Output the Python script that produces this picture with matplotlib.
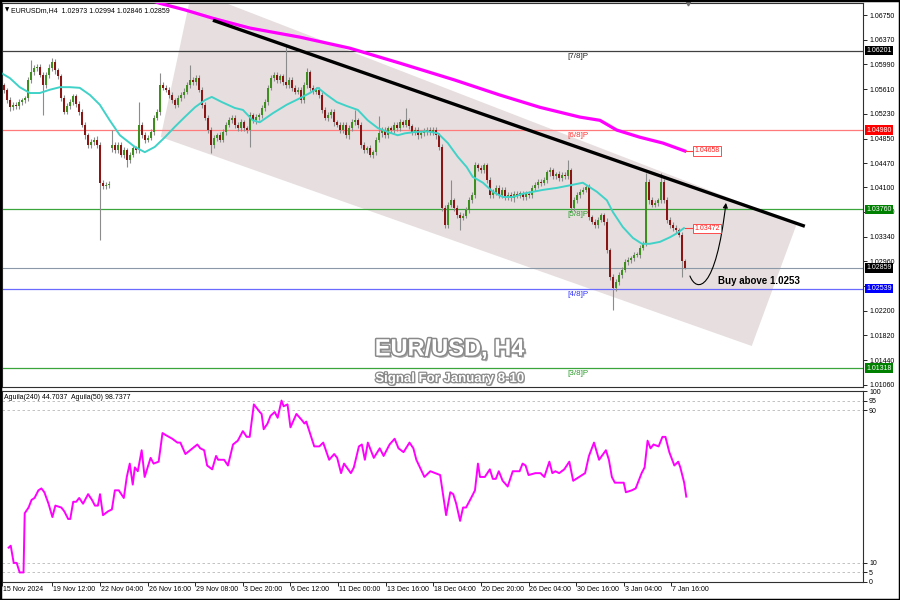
import numpy as np
import matplotlib.pyplot as plt
import matplotlib.patheffects as pe
from matplotlib.patches import Polygon, FancyArrowPatch, Rectangle
from matplotlib.path import Path

plt.rcParams['font.family'] = ['Liberation Sans', 'DejaVu Sans']

# EURUSD H4 closes, one per bar (bar 0 = 15 Nov 2024)
closes = [
    1.0567, 1.0560, 1.0544, 1.0533, 1.0537, 1.0535, 1.0541, 1.0544, 1.0547, 1.0575,
    1.0587, 1.0593, 1.0595, 1.0583, 1.0567, 1.0583, 1.0593, 1.0603, 1.0590, 1.0581,
    1.0547, 1.0526, 1.0535, 1.0541, 1.0550, 1.0538, 1.0526, 1.0506, 1.0490, 1.0475,
    1.0480, 1.0483, 1.0475, 1.0417, 1.0412, 1.0413, 1.0415, 1.0475, 1.0467, 1.0475,
    1.0460, 1.0467, 1.0452, 1.0460, 1.0470, 1.0467, 1.0506, 1.0490, 1.0483, 1.0486,
    1.0495, 1.0517, 1.0526, 1.0567, 1.0563, 1.0560, 1.0552, 1.0544, 1.0537, 1.0547,
    1.0552, 1.0557, 1.0567, 1.0575, 1.0572, 1.0578, 1.0560, 1.0537, 1.0517, 1.0498,
    1.0475, 1.0486, 1.0490, 1.0483, 1.0495, 1.0506, 1.0513, 1.0517, 1.0506, 1.0501,
    1.0510, 1.0501, 1.0498, 1.0521, 1.0513, 1.0518, 1.0521, 1.0532, 1.0541, 1.0563,
    1.0578, 1.0583, 1.0575, 1.0581, 1.0572, 1.0567, 1.0575, 1.0563, 1.0557, 1.0560,
    1.0544, 1.0567, 1.0587, 1.0563, 1.0557, 1.0560, 1.0552, 1.0529, 1.0517, 1.0521,
    1.0526, 1.0510, 1.0506, 1.0498, 1.0506, 1.0490, 1.0501, 1.0510, 1.0513, 1.0506,
    1.0475, 1.0467, 1.0470, 1.0460, 1.0464, 1.0483, 1.0493, 1.0498, 1.0490, 1.0501,
    1.0498, 1.0506, 1.0501, 1.0510, 1.0506, 1.0513, 1.0504, 1.0495, 1.0498, 1.0490,
    1.0493, 1.0496, 1.0498, 1.0495, 1.0498, 1.0490, 1.0472, 1.0378, 1.0352, 1.0383,
    1.0390, 1.0378, 1.0367, 1.0363, 1.0366, 1.0375, 1.0390, 1.0398, 1.0444, 1.0440,
    1.0436, 1.0444, 1.0421, 1.0398, 1.0403, 1.0409, 1.0398, 1.0406, 1.0395, 1.0398,
    1.0393, 1.0400, 1.0397, 1.0401, 1.0395, 1.0400, 1.0398, 1.0409, 1.0413, 1.0418,
    1.0417, 1.0421, 1.0433, 1.0436, 1.0427, 1.0430, 1.0424, 1.0429, 1.0427, 1.0436,
    1.0378, 1.0390, 1.0398, 1.0403, 1.0406, 1.0410, 1.0364, 1.0357, 1.0352, 1.0360,
    1.0367, 1.0357, 1.0313, 1.0272, 1.0255, 1.0264, 1.0275, 1.0283, 1.0295, 1.0298,
    1.0301, 1.0306, 1.0306, 1.0317, 1.0324, 1.0418, 1.0390, 1.0383, 1.0386, 1.0390,
    1.0418, 1.0390, 1.0360, 1.0352, 1.0347, 1.0344, 1.0337, 1.02973, 1.02859,
]
first_open = 1.0575
gap_opens = {37: 1.0470}

# wick lengths in pips above / below the body
hi_wick = [
    15, 4, 3, 5, 4, 4, 5, 4, 4, 5,
    19, 5, 4, 4, 4, 5, 6, 6, 4, 4,
    4, 5, 4, 5, 4, 4, 5, 4, 5, 4,
    5, 4, 6, 4, 4, 5, 4, 23, 4, 5,
    4, 5, 4, 5, 4, 4, 35, 4, 5, 4,
    5, 4, 4, 19, 5, 4, 5, 4, 4, 5,
    4, 5, 5, 23, 5, 5, 4, 4, 4, 4,
    4, 5, 4, 5, 4, 4, 5, 4, 4, 5,
    5, 4, 4, 5, 4, 5, 4, 4, 5, 4,
    5, 4, 5, 4, 4, 57, 5, 4, 4, 5,
    4, 5, 6, 4, 4, 5, 4, 4, 4, 5,
    4, 5, 4, 4, 5, 4, 5, 5, 16, 4,
    4, 5, 4, 5, 4, 4, 26, 4, 5, 4,
    4, 5, 4, 5, 4, 19, 4, 4, 5, 4,
    4, 5, 4, 4, 5, 4, 4, 4, 5, 5,
    31, 4, 4, 5, 4, 4, 5, 4, 5, 4,
    5, 4, 4, 5, 4, 4, 5, 4, 4, 5,
    4, 4, 5, 4, 4, 5, 4, 4, 5, 4,
    4, 5, 4, 5, 4, 4, 5, 4, 4, 16,
    4, 5, 4, 4, 5, 4, 5, 4, 4, 5,
    4, 4, 5, 4, 4, 5, 4, 4, 5, 4,
    4, 4, 5, 4, 4, 14, 4, 5, 4, 4,
    14, 4, 5, 4, 4, 5, 4, 4, 2,
]
lo_wick = [
    4, 5, 4, 6, 4, 5, 4, 4, 5, 5,
    4, 5, 4, 4, 46, 4, 5, 4, 5, 4,
    5, 4, 4, 5, 4, 4, 5, 4, 5, 5,
    4, 5, 5, 88, 4, 5, 4, 5, 4, 5,
    4, 5, 11, 5, 4, 4, 5, 4, 5, 4,
    4, 5, 4, 5, 4, 4, 5, 4, 5, 4,
    4, 5, 4, 4, 5, 4, 4, 5, 4, 4,
    12, 4, 5, 4, 4, 5, 4, 4, 5, 4,
    4, 5, 4, 26, 4, 5, 4, 4, 5, 4,
    4, 5, 4, 4, 5, 4, 4, 5, 4, 4,
    5, 4, 4, 5, 4, 4, 5, 4, 4, 5,
    4, 5, 4, 4, 5, 4, 5, 4, 4, 5,
    4, 4, 5, 4, 5, 4, 4, 5, 4, 4,
    5, 4, 4, 5, 4, 4, 5, 4, 4, 5,
    4, 4, 5, 4, 4, 5, 4, 4, 5, 4,
    4, 5, 4, 18, 4, 4, 5, 4, 4, 5,
    4, 4, 5, 4, 4, 5, 4, 4, 5, 4,
    4, 5, 4, 4, 5, 4, 4, 5, 4, 4,
    5, 4, 4, 5, 4, 4, 5, 4, 4, 4,
    5, 4, 4, 5, 4, 4, 5, 4, 4, 5,
    4, 5, 4, 5, 34, 4, 4, 5, 4, 4,
    5, 4, 4, 5, 4, 4, 5, 4, 4, 5,
    4, 4, 5, 4, 4, 5, 4, 25, 1,
]

# fast MA (cyan), read at bar positions
ma_fast_x = [-0.3, 3, 6.3, 9.7, 13, 16.3, 19.7, 23, 26.3, 29.7,
             33, 36.3, 39.7, 44.7, 48, 51.3, 54.7, 58, 61.3, 64.7,
             68, 70.3, 73.7, 78, 80.7, 84, 86.3, 90.7, 95.3, 99.7,
             103, 105.7, 108.7, 112, 115.3, 119, 122.3, 125.7, 129, 132.3,
             134.7, 138, 142.3, 145.7, 149, 152.3, 155.3, 157.3, 160.7, 164,
             167.3, 170.7, 174, 177.3, 180.7, 185.3, 189.7, 194, 198.7, 202,
             204, 207.3, 210.7, 213.7, 216.3, 219.7, 223, 225.3, 227.7]
ma_fast_y = [1.0587, 1.0578, 1.0564, 1.0555, 1.0555, 1.0560, 1.0564, 1.0564, 1.0563, 1.0552,
             1.0537, 1.0513, 1.0490, 1.0472, 1.0464, 1.0472, 1.0487, 1.0503, 1.0518, 1.0533,
             1.0544, 1.0549, 1.0541, 1.0532, 1.0529, 1.0513, 1.0510, 1.0524, 1.0537, 1.0547,
             1.0555, 1.0563, 1.0552, 1.0541, 1.0535, 1.0529, 1.0513, 1.0501, 1.0495, 1.0490,
             1.0493, 1.0495, 1.0496, 1.0493, 1.0478, 1.0457, 1.0441, 1.0426, 1.0417, 1.0403,
             1.0395, 1.0395, 1.0400, 1.0403, 1.0406, 1.0409, 1.0413, 1.0417, 1.0403, 1.0390,
             1.0372, 1.0349, 1.0332, 1.0323, 1.0323, 1.0326, 1.0333, 1.0339, 1.03472]

# slow MA (magenta)
ma_slow_x = [44.7, 53, 61.3, 70.7, 83, 99.7, 116.3, 133, 151.3, 166.3,
             179.7, 193, 199.7, 205.3, 213, 220.7, 228]
ma_slow_y = [1.0706, 1.0693, 1.0683, 1.0670, 1.0655, 1.0641, 1.0624, 1.0601, 1.0575, 1.0552,
             1.0533, 1.0518, 1.0513, 1.0498, 1.0487, 1.0478, 1.04658]

# Murrey levels: value, tag, line colour, box colour
levels = [1.06201, 1.04980, 1.03760, 1.02539, 1.01318]
level_tags = ['[7/8]P', '[6/8]P', '[5/8]P', '[4/8]P', '[3/8]P']
level_colors = ['#404040', '#ff7a7a', '#3aa53a', '#6a6aff', '#3aa53a']
level_text_colors = ['#202020', '#ff3030', '#2a9a2a', '#3030ff', '#2a9a2a']
level_box_colors = ['#000000', '#ff0000', '#008000', '#0000ff', '#008000']
last_price = 1.02859

price_ticks = [1.0675, 1.0637, 1.0599, 1.0561, 1.0523, 1.0485, 1.0447, 1.0410,
               1.0372, 1.0334, 1.0296, 1.0258, 1.0220, 1.0182, 1.0144, 1.0106]
hidden_ticks = [1.0258]  # covered by the 1.02539 tag in the terminal

# Aguila(240) oscillator
ind_x = [0.3, 1, 2, 3, 4, 5.3, 5.7, 7, 8, 9, 10.3, 11.3, 12.3, 13.7, 15, 16, 18, 19, 20.3, 21,
         22, 23, 24, 25.3, 27, 28.3, 29.3, 30.3, 31, 32, 33.7, 35, 36, 37.3, 39, 40, 41, 42,
         42.7, 43.7, 45, 46, 47, 48, 49, 50.7, 52, 53, 55.3, 57, 58, 59.7, 61.3, 63.7, 64.7,
         66, 67, 68.7, 70, 70.7, 72.7, 74, 75.7, 77.3, 79, 80.3, 81.3, 82.7, 84.7, 85.3, 86,
         87.3, 88.3, 89.7, 90.7, 92, 92.7, 94, 95, 97, 98.7, 99.7, 100.3, 103, 104.7, 106,
         108, 109.7, 110.7, 112, 113, 115.3, 116.3, 118, 119, 120, 121, 123, 125, 126.3,
         128.3, 130, 131.3, 133, 135, 136.3, 137.3, 140, 142, 143.7, 145.3, 147.3, 148.7,
         149.7, 150.7, 152, 153, 154, 155.7, 157, 158, 158.7, 160.3, 162, 163, 164, 165,
         166.3, 168, 169.7, 172, 173, 174, 175, 177.3, 179, 180.3, 182, 183, 184, 185.3,
         187, 188.7, 190, 192, 194, 195.3, 197, 198.7, 201, 202, 203, 204, 205.7, 207,
         207.7, 209.7, 211, 213, 214, 215, 216, 217, 218.7, 220, 221, 222.3, 224, 225.3,
         226, 227.3, 228]
ind_v = [18, 19, 10, 10, 5, 5, 36, 39, 43, 44, 48, 49, 47, 41, 34, 40, 39, 37, 33, 33,
         42, 42, 44, 41, 46, 43, 40, 40, 46, 35, 37, 38, 48, 48, 44, 55, 62, 51,
         60, 58, 69, 55, 60, 65, 62, 63, 78, 77, 75, 73, 73, 67, 69, 72, 70,
         69, 61, 59, 66, 64, 64, 61, 72, 74, 79, 76, 76, 93, 89, 88, 80,
         83, 87, 89, 86, 95, 92, 93, 81, 88, 85, 83, 84, 71, 71, 73,
         64, 67, 65, 57, 62, 57, 60, 71, 72, 64, 73, 65, 70, 66,
         72, 75, 70, 68, 73, 70, 64, 55, 58, 57, 56, 35, 47,
         46, 41, 32, 39, 39, 44, 48, 62, 55, 55, 59, 54, 54, 58,
         53, 50, 58, 58, 62, 61, 56, 57, 57, 55, 63, 57, 58, 57,
         59, 63, 53, 55, 57, 66, 73, 64, 69, 64, 55, 52, 52, 52,
         47, 48, 49, 57, 60, 74, 70, 72, 71, 76, 76, 68, 61, 63,
         60, 52, 44.7]
ind_levels = [5, 10, 90, 95]

date_labels = ['15 Nov 2024', '19 Nov 12:00', '22 Nov 04:00', '26 Nov 16:00', '29 Nov 08:00',
               '3 Dec 20:00', '6 Dec 12:00', '11 Dec 00:00', '13 Dec 16:00', '18 Dec 04:00',
               '20 Dec 20:00', '26 Dec 04:00', '30 Dec 16:00', '3 Jan 04:00', '7 Jan 16:00']
date_bars = [-2, 15, 31, 47, 63, 79, 95, 111, 127, 143, 159, 175, 191, 207, 223]

# ---- candles
closes_a = np.array(closes)
opens = np.array([first_open] + closes[:-1])
for k, v in gap_opens.items():
    opens[k] = v
highs = np.maximum(opens, closes_a) + np.array(hi_wick) * 0.0001
lows = np.minimum(opens, closes_a) - np.array(lo_wick) * 0.0001
x = np.arange(len(closes))
up = closes_a >= opens

fig = plt.figure(figsize=(9, 6), dpi=100)
ax = fig.add_axes([0.002, 0.355, 0.9567, 0.64])
ax2 = fig.add_axes([0.002, 0.03, 0.9567, 0.3183])

ax.set_xlim(0.33, 287.33)
ax.set_ylim(1.01027, 1.06935)

# channel shading
chan = Polygon([(63.7, 1.07135), (53.3, 1.04873), (250.3, 1.01658), (265.3, 1.03535)],
               closed=True, fc='#e7dfdf', ec='none', zorder=0.5)
ax.add_patch(chan)

# level lines
for lv, tag, lc, tc, bc in zip(levels, level_tags, level_colors, level_text_colors, level_box_colors):
    ax.axhline(lv, color=lc, lw=0.9, zorder=1)
    ax.text(189, lv - 0.0003, tag, color=tc, fontsize=5.8, va='top', ha='left', zorder=6)
    ax.text(1.004, lv, f'{lv:.5f}', transform=ax.get_yaxis_transform(), color='white',
            fontsize=5, va='center', ha='left', zorder=10, clip_on=False,
            bbox=dict(boxstyle='square,pad=0.18', fc=bc, ec='none'))
ax.axhline(last_price, color='#8a98a8', lw=0.8, zorder=1)
ax.text(1.004, last_price, f'{last_price:.5f}', transform=ax.get_yaxis_transform(), color='white',
        fontsize=5, va='center', ha='left', zorder=10, clip_on=False,
        bbox=dict(boxstyle='square,pad=0.18', fc='black', ec='none'))

# candles
ax.vlines(x, lows, highs, color='#8c8c8c', lw=0.8, zorder=3)
body_h = np.maximum(np.abs(closes_a - opens), 0.00008)
ax.bar(x, body_h, bottom=np.minimum(opens, closes_a), width=0.62,
       color=np.where(up, '#3f8f1f', '#8b1414'), edgecolor='none', zorder=3.5)

# moving averages
ax.plot(ma_fast_x, ma_fast_y, color='#40d2c8', lw=1.4, zorder=4)
ax.plot(ma_slow_x, ma_slow_y, color='#ff00ff', lw=2.3, zorder=4)

# MA price tags
for yv in [ma_slow_y[-1], ma_fast_y[-1]]:
    ax.plot([228, 231], [yv, yv], color='#ff4040', lw=0.8, zorder=4)
    ax.text(231.2, yv, f'{yv:.5f}', color='#ff2020', fontsize=5, va='center', ha='left', zorder=7,
            bbox=dict(boxstyle='square,pad=0.15', fc='white', ec='#ff3030', lw=0.6))

# trend line
ax.plot([70.7, 268], [1.0667, 1.0350], color='black', lw=2.4, zorder=5,
        solid_capstyle='butt')

# projected path arrow
arc = Path([(229.7, 1.02735), (232.0, 1.0247), (238.3, 1.0249), (241.7, 1.0386)],
           [Path.MOVETO, Path.CURVE4, Path.CURVE4, Path.CURVE4])
ax.add_patch(FancyArrowPatch(path=arc, arrowstyle='-|>', mutation_scale=7, lw=0.8,
                             color='black', transform=ax.transData, zorder=6))
ax.text(239, 1.02658, 'Buy above 1.0253', fontsize=7, fontweight='bold', va='center',
        ha='left', zorder=7)

# titles
ax.text(0.5203, 0.099, 'EUR/USD, H4', transform=ax.transAxes, fontsize=17, fontweight='bold',
        color='white', ha='center', va='center', zorder=8,
        path_effects=[pe.SimplePatchShadow(offset=(1.5, -1.5), shadow_rgbFace='#505050', alpha=0.5),
                      pe.Stroke(linewidth=2.2, foreground='#8a8a8a'), pe.Normal()])
ax.text(0.5203, 0.021, 'Signal For January 8-10', transform=ax.transAxes, fontsize=9.5,
        fontweight='bold', color='white', ha='center', va='center', zorder=8,
        path_effects=[pe.SimplePatchShadow(offset=(1, -1), shadow_rgbFace='#505050', alpha=0.5),
                      pe.Stroke(linewidth=1.8, foreground='#8a8a8a'), pe.Normal()])

ax.text(0.004, 0.988, '\u25bc', transform=ax.transAxes, fontsize=4, va='top', ha='left',
        family=['DejaVu Sans'])
ax.text(0.011, 0.99, 'EURUSDm,H4  1.02973 1.02994 1.02846 1.02859', transform=ax.transAxes,
        fontsize=5, va='top', ha='left')
ax.plot([229], [1.06935], marker='v', color='#707070', ms=3.5, clip_on=False, zorder=9)

ax.yaxis.tick_right()
ax.set_yticks(price_ticks)
ax.set_yticklabels(['' if t in hidden_ticks else f'{t:.5f}' for t in price_ticks])
ax.tick_params(axis='y', labelsize=5, length=3, width=0.6, pad=1.5)
ax.set_xticks([])
for s in ax.spines.values():
    s.set_color('#303030')
    s.set_linewidth(0.8)

# ---- oscillator panel
ax2.set_xlim(0.33, 287.33)
ax2.set_ylim(0, 100)
for lv in ind_levels:
    ax2.axhline(lv, color='#b8b8b8', lw=0.6, ls=(0, (3, 3)))
ax2.plot(ind_x, ind_v, color='#ff00ff', lw=1.4)
ax2.text(0.002, 0.985, 'Aguila(240) 44.7037  Aguila(50) 98.7377', transform=ax2.transAxes,
         fontsize=5, va='top', ha='left')
ax2.yaxis.tick_right()
ax2.set_yticks([0, 5, 10, 90, 95, 100])
ax2.set_yticklabels(['0', '5', '10', '90', '95', '100'])
ax2.tick_params(axis='y', labelsize=5, length=3, width=0.6, pad=1.5)
ax2.set_xticks(date_bars)
ax2.set_xticklabels([])
ax2.tick_params(axis='x', length=3, width=0.6)
for b, lab in zip(date_bars, date_labels):
    ax2.text(b + 0.3, -0.038, lab, transform=ax2.get_xaxis_transform(), fontsize=5,
             va='center', ha='left', clip_on=False)
for s in ax2.spines.values():
    s.set_color('#303030')
    s.set_linewidth(0.8)

fig.patches.append(Rectangle((0, 0), 1, 1, transform=fig.transFigure, fill=False,
                             ec='black', lw=2.5))

fig.savefig('out.png', dpi=100)
